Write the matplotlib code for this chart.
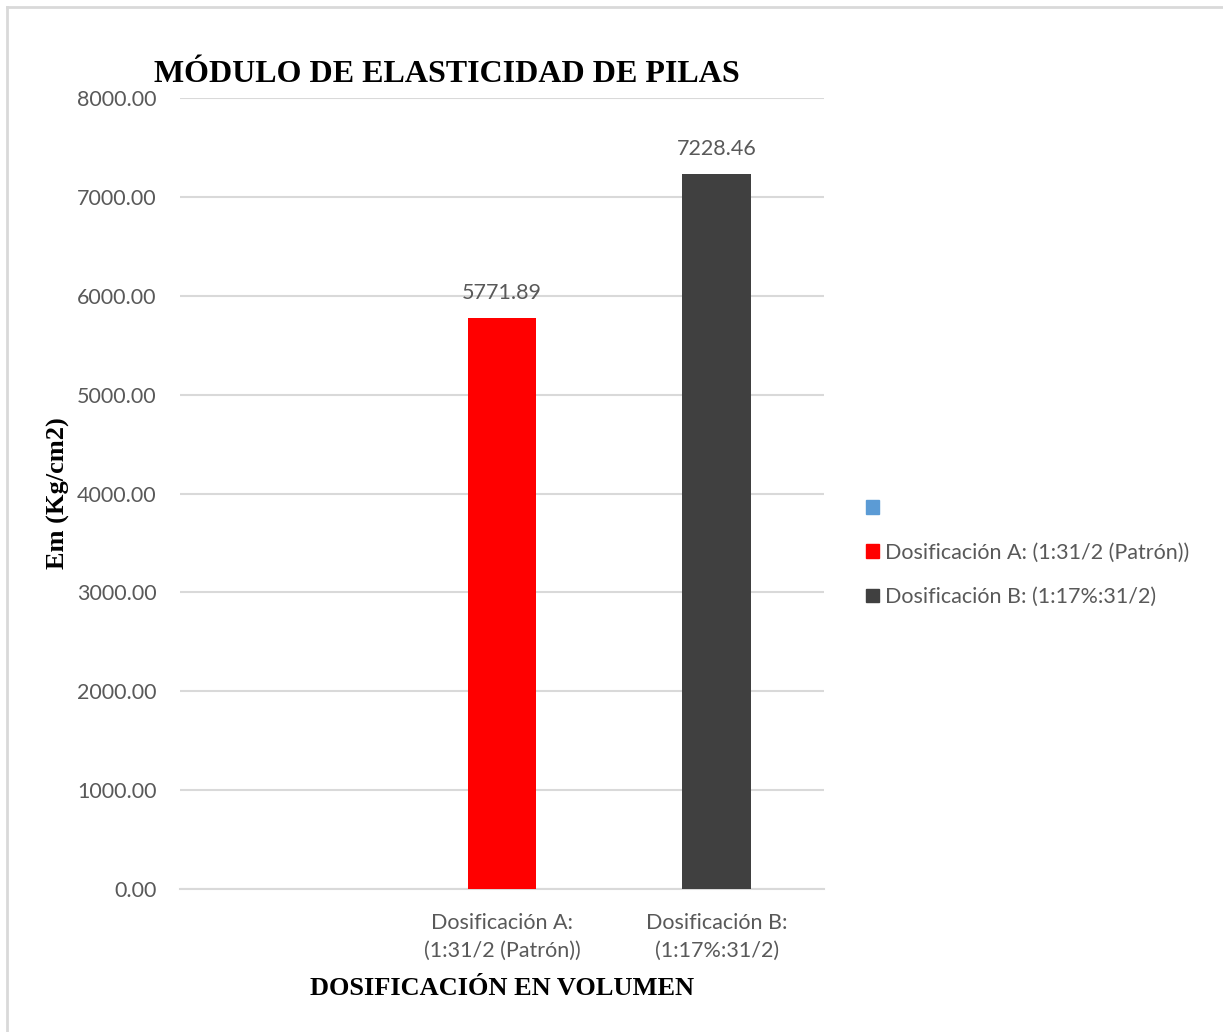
import matplotlib.pyplot as plt
from matplotlib.patches import Patch
from matplotlib.lines import Line2D

# Datos
categorias = ["", "Dosificación A:\n(1:31/2 (Patrón))", "Dosificación B:\n(1:17%:31/2)"]
valores = [5771.89, 7228.46]
series = ["", "Dosificación A: (1:31/2 (Patrón))", "Dosificación B: (1:17%:31/2)"]
colores = ["#5B9BD5", "#FF0000", "#404040"]
yticks = [0, 1000, 2000, 3000, 4000, 5000, 6000, 7000, 8000]

gris = "#595959"
fuente = "Lato"
serif = "Liberation Serif"
tam = 15.5

fig = plt.figure(figsize=(12.23, 10.32), dpi=100)
ax = fig.add_axes([180/1223, 1 - 889/1032, 644/1223, (889 - 98)/1032])

x = list(range(len(categorias)))
barras = ax.bar(x[1:], valores, width=0.32, color=colores[1:], zorder=3)
for b, v in zip(barras, valores):
    ax.annotate(f"{v:.2f}", (b.get_x() + b.get_width()/2, v), xytext=(0, 11),
                textcoords="offset points", ha="center", va="bottom",
                fontsize=tam, color=gris, family=fuente)

ax.set_xlim(-0.5, 2.5)
ax.set_ylim(0, 8000)
ax.set_yticks(yticks)
ax.set_yticklabels([f"{t:.2f}" for t in yticks], fontsize=tam, color=gris, family=fuente)
ax.set_xticks(x)
ax.set_xticklabels(categorias, fontsize=tam, color=gris, family=fuente, linespacing=1.5)
ax.tick_params(axis="both", length=0)
ax.tick_params(axis="y", pad=17)
ax.tick_params(axis="x", pad=17)
ax.grid(axis="y", color="#D9D9D9", lw=1.5, zorder=0)
for s in ["top", "right", "left"]:
    ax.spines[s].set_visible(False)
ax.spines["bottom"].set_color("#D9D9D9")
ax.spines["bottom"].set_linewidth(1.5)

ax.set_xlabel("DOSIFICACIÓN EN VOLUMEN", family=serif, fontweight="bold",
              fontsize=19, labelpad=12)
ax.set_ylabel("Em (Kg/cm2)", family=serif, fontweight="bold", fontsize=19, labelpad=5)
fig.text(447/1223, 1 - 75/1032, "MÓDULO DE ELASTICIDAD DE PILAS", family=serif,
         fontweight="bold", fontsize=23, ha="center", va="center")

handles = [Patch(color=c) for c in colores]
leg = fig.legend(handles, series, loc="upper left", bbox_to_anchor=(855/1223, 1 - 488/1032),
                 frameon=False, fontsize=tam, handlelength=0.6, handleheight=0.6,
                 handletextpad=0.3, labelspacing=1.12, borderpad=0)
for t in leg.get_texts():
    t.set_color(gris)
    t.set_family(fuente)

# borde del gráfico
fig.add_artist(Line2D([7/1223, 1], [1 - 7/1032, 1 - 7/1032], color="#D9D9D9", lw=2))
fig.add_artist(Line2D([7/1223, 7/1223], [0, 1 - 7/1032], color="#D9D9D9", lw=2))

fig.savefig("out.png", dpi=100)
